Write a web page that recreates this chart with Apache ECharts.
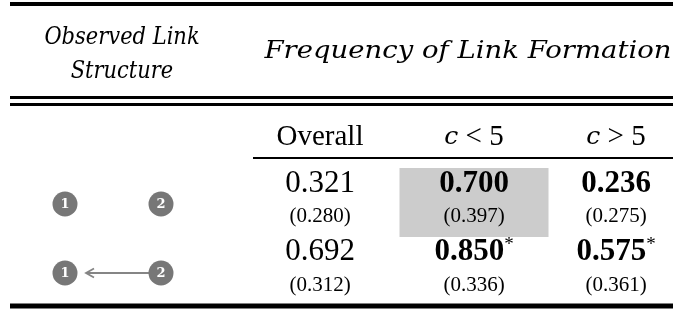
<!DOCTYPE html>
<html lang="en">
<head>
<meta charset="UTF-8">
<title>Frequency of Link Formation</title>
<script src="https://cdn.jsdelivr.net/npm/echarts@6/dist/echarts.min.js"></script>
<style>
html,body{margin:0;padding:0;background:#fff}
#main{width:683px;height:312px}
</style>
</head>
<body>
<div id="main"></div>
<script>
// table data
var columns = ['Overall', 'c < 5', 'c > 5'];
var estimates = [[0.321, 0.700, 0.236], [0.692, 0.850, 0.575]];
var stdErrors = [[0.280, 0.397, 0.275], [0.312, 0.336, 0.361]];
var boldCells = [[false, true, true], [false, true, true]];
var starCells = [[false, false, false], [false, true, true]];
var shadeCells = [[false, true, false], [false, false, false]];
var rowLinks = [[], [[2, 1]]];   // directed links drawn in each row (from, to)

// layout (pixels, the grid maps 1:1 onto the canvas)
var W = 683, H = 312;
var colX = [320, 474, 616];
var rowY = [184, 252];
var seY = [216, 285];
var nodeX = [65, 161];
var nodeY = [204, 273];
var serif = 'Liberation Serif';
var italic = 'DejaVu Serif';

var cells = [];
estimates.forEach(function (row, r) {
  row.forEach(function (v, c) { cells.push([c, r]); });
});

function line(api, x1, x2, y, w) {
  var a = api.coord([x1, y]), b = api.coord([x2, y]);
  return {type: 'rect', shape: {x: a[0], y: a[1] - w / 2, width: b[0] - a[0], height: w}, style: {fill: '#000'}};
}

function txt(api, x, y, text, style, sx) {
  var p = api.coord([x, y]);
  var s = Object.assign({text: text, fill: '#000', align: 'center', verticalAlign: 'middle', fontFamily: serif}, style);
  return {type: 'text', x: p[0], y: p[1], scaleX: sx || 1, style: s};
}

var chart = echarts.init(document.getElementById('main'), null, {renderer: 'canvas'});
chart.setOption({
  animation: false,
  grid: {left: 0, right: 0, top: 0, bottom: 0},
  xAxis: {type: 'value', min: 0, max: W, show: false},
  yAxis: {type: 'value', min: 0, max: H, inverse: true, show: false},
  series: [
    {
      // rules and headers
      type: 'custom', clip: false, silent: true,
      data: [[0]],
      renderItem: function (params, api) {
        var it = {fontSize: 25, fontStyle: 'italic', fontFamily: italic, fontWeight: 'normal'};
        var ch = [
          line(api, 10, 673, 4, 4),
          line(api, 10, 673, 97.5, 3),
          line(api, 10, 673, 104.5, 3),
          line(api, 253, 673, 158, 2),
          line(api, 10, 673, 306, 5),
          txt(api, 122, 37, 'Observed Link', it, 0.84),
          txt(api, 122, 71, 'Structure', it, 0.84),
          txt(api, 468, 51, 'Frequency of Link Formation', it, 1.1)
        ];
        columns.forEach(function (name, c) {
          var t = name.replace(/^c /, '{i|c} ');
          ch.push(txt(api, colX[c], 137, t, {fontSize: 29, rich: {i: {fontSize: 25, fontStyle: 'italic', fontFamily: italic}}}));
        });
        return {type: 'group', children: ch};
      }
    },
    {
      // estimate cells
      type: 'custom', clip: false, silent: true,
      data: cells,
      renderItem: function (params, api) {
        var c = api.value(0), r = api.value(1);
        var ch = [];
        if (shadeCells[r][c]) {
          var a = api.coord([colX[c] - 74.5, rowY[r] - 16]);
          var b = api.coord([colX[c] + 74.5, seY[r] + 21]);
          ch.push({type: 'rect', shape: {x: a[0], y: a[1], width: b[0] - a[0], height: b[1] - a[1]}, style: {fill: '#cccccc'}});
        }
        var w = boldCells[r][c] ? 'bold' : 'normal';
        var t = '{n|' + estimates[r][c].toFixed(3) + '}' + (starCells[r][c] ? '{s|*}' : '');
        ch.push(txt(api, colX[c], rowY[r], t, {
          rich: {
            n: {fontSize: 31, fontWeight: w, fontFamily: serif, lineHeight: 32},
            s: {fontSize: 19, fontFamily: serif, verticalAlign: 'top', lineHeight: 32}
          }
        }));
        ch.push(txt(api, colX[c], seY[r], '(' + stdErrors[r][c].toFixed(3) + ')', {fontSize: 21}));
        return {type: 'group', children: ch};
      }
    },
    {
      // link structure diagrams
      type: 'custom', clip: false, silent: true,
      data: rowLinks.map(function (l, r) { return [r]; }),
      renderItem: function (params, api) {
        var r = api.value(0);
        var ch = [];
        rowLinks[r].forEach(function (lk) {
          var from = api.coord([nodeX[lk[0] - 1], nodeY[r]]);
          var to = api.coord([nodeX[lk[1] - 1], nodeY[r]]);
          var dir = to[0] > from[0] ? 1 : -1;
          var x0 = from[0] + dir * 12, x1 = to[0] - dir * 21;
          ch.push({type: 'line', shape: {x1: x0, y1: from[1], x2: x1, y2: to[1]}, style: {stroke: '#858585', lineWidth: 2.2}});
          ch.push({type: 'polyline', shape: {points: [[x1 - dir * 8, to[1] - 4.5], [x1, to[1]], [x1 - dir * 8, to[1] + 4.5]]}, style: {stroke: '#858585', lineWidth: 1.8, fill: null}});
        });
        nodeX.forEach(function (x, i) {
          var p = api.coord([x, nodeY[r]]);
          ch.push({type: 'circle', shape: {cx: p[0], cy: p[1], r: 12.5}, style: {fill: '#777777'}});
          ch.push({type: 'text', x: p[0], y: p[1] + 1, style: {text: String(i + 1), fill: '#fff', align: 'center', verticalAlign: 'middle', fontFamily: 'DejaVu Serif', fontWeight: 'bold', fontSize: 13}});
        });
        return {type: 'group', children: ch};
      }
    }
  ]
});
</script>
</body>
</html>
